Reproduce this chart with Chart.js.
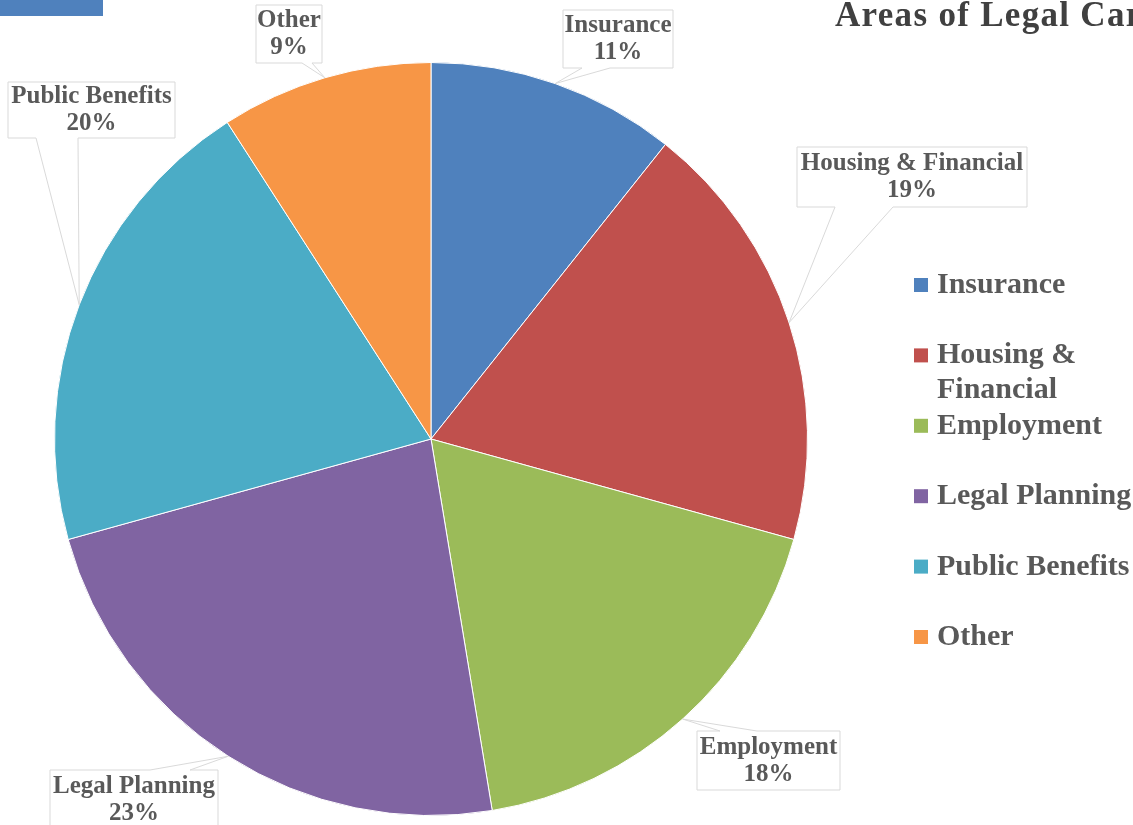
<!DOCTYPE html>
<html>
<head>
<meta charset="utf-8">
<script src="https://cdn.jsdelivr.net/npm/chart.js@4/dist/chart.umd.min.js"></script>
<style>
    html, body { margin: 0; padding: 0; background: #fff; }
    #wrap { width: 1133px; height: 825px; }
</style>
</head>
<body>
<div id="wrap"><canvas id="legalChart"></canvas></div>
<script>
// data
const categories = ['Insurance', 'Housing & Financial', 'Employment', 'Legal Planning', 'Public Benefits', 'Other'];
const shares = [10.7, 18.6, 18.1, 23.3, 20.2, 9.1];
const sliceColors = ['#4F81BD', '#C0504D', '#9BBB59', '#8064A2', '#4BACC6', '#F79646'];
const chartTitle = 'Areas of Legal Care';

const textColor = '#595959';
const serif = '"Liberation Serif", "Times New Roman", serif';

// callout boxes: [x, y, w, h, base1, base2, side]
const calloutBoxes = [
    [563, 10, 110, 58, 582, 610, 'bottom'],
    [797, 147, 230, 60, 835, 893, 'bottom'],
    [697, 731, 143, 59, 720, 757, 'top'],
    [50, 770, 168, 60, 150, 190, 'top'],
    [8, 82, 167, 56, 36, 78, 'bottom'],
    [256, 5, 66, 58, 302, 312, 'bottom']
];

function drawCallout(ctx, box, tip) {
    const [x, y, w, h, b1, b2, side] = box;
    ctx.beginPath();
    if (side === 'top') {
        ctx.moveTo(x, y);
        ctx.lineTo(b1, y);
        ctx.lineTo(tip.x, tip.y);
        ctx.lineTo(b2, y);
        ctx.lineTo(x + w, y);
        ctx.lineTo(x + w, y + h);
        ctx.lineTo(x, y + h);
    } else {
        ctx.moveTo(x, y);
        ctx.lineTo(x + w, y);
        ctx.lineTo(x + w, y + h);
        ctx.lineTo(b2, y + h);
        ctx.lineTo(tip.x, tip.y);
        ctx.lineTo(b1, y + h);
        ctx.lineTo(x, y + h);
    }
    ctx.closePath();
    ctx.fillStyle = '#fff';
    ctx.fill();
    ctx.strokeStyle = '#D9D9D9';
    ctx.lineWidth = 1;
    ctx.stroke();
}

const calloutPlugin = {
    id: 'callouts',
    afterDatasetsDraw(chart) {
        const ctx = chart.ctx;
        const meta = chart.getDatasetMeta(0);
        const values = chart.data.datasets[0].data;
        const total = values.reduce((a, b) => a + b, 0);
        ctx.save();
        meta.data.forEach((arc, i) => {
            const p = arc.getProps(['x', 'y', 'startAngle', 'endAngle', 'outerRadius'], true);
            const mid = (p.startAngle + p.endAngle) / 2;
            const tip = { x: p.x + Math.cos(mid) * p.outerRadius, y: p.y + Math.sin(mid) * p.outerRadius };
            const box = calloutBoxes[i];
            drawCallout(ctx, box, tip);

            const cx = box[0] + box[2] / 2;
            const cy = box[1] + box[3] / 2;
            ctx.fillStyle = textColor;
            ctx.font = 'bold 25px ' + serif;
            ctx.textAlign = 'center';
            ctx.textBaseline = 'alphabetic';
            ctx.fillText(chart.data.labels[i], cx, cy - 7);
            ctx.fillText(Math.round(values[i] / total * 100) + '%', cx, cy + 20);
        });
        ctx.restore();
    }
};

// right side legend with wrapped labels, title and the little bar top left
const sidePlugin = {
    id: 'side',
    afterDraw(chart) {
        const ctx = chart.ctx;
        ctx.save();

        ctx.fillStyle = '#4F81BD';
        ctx.fillRect(0, 0, 103, 16);

        ctx.fillStyle = '#404040';
        ctx.font = 'bold 35px ' + serif;
        ctx.letterSpacing = '1.3px';
        ctx.textAlign = 'left';
        ctx.textBaseline = 'alphabetic';
        ctx.fillText(chartTitle, 835, 26);
        ctx.letterSpacing = '0px';

        ctx.font = 'bold 30px ' + serif;
        const colors = chart.data.datasets[0].backgroundColor;
        chart.data.labels.forEach((label, i) => {
            const base = 293 + i * 70.4;
            ctx.fillStyle = colors[i];
            ctx.fillRect(914, base - 15, 14, 14);

            // wrap words that do not fit
            const lines = [];
            let line = '';
            label.split(' ').forEach(word => {
                const test = line ? line + ' ' + word : word;
                if (line && ctx.measureText(test).width > 200) {
                    lines.push(line);
                    line = word;
                } else {
                    line = test;
                }
            });
            lines.push(line);

            ctx.fillStyle = textColor;
            lines.forEach((l, j) => ctx.fillText(l, 937, base + j * 35));
        });
        ctx.restore();
    }
};

const ctx = document.getElementById('legalChart').getContext('2d');

const legalChart = new Chart(ctx, {
    type: 'pie',
    data: {
        labels: categories,
        datasets: [{
            data: shares,
            backgroundColor: sliceColors,
            borderColor: '#fff',
            borderWidth: 1
        }]
    },
    options: {
        responsive: true,
        maintainAspectRatio: false,
        animation: false,
        layout: { padding: { left: 54, right: 325, top: 62, bottom: 9 } },
        plugins: {
            legend: { display: false },
            title: { display: false },
            tooltip: { enabled: false }
        }
    },
    plugins: [calloutPlugin, sidePlugin]
});
</script>
</body>
</html>
